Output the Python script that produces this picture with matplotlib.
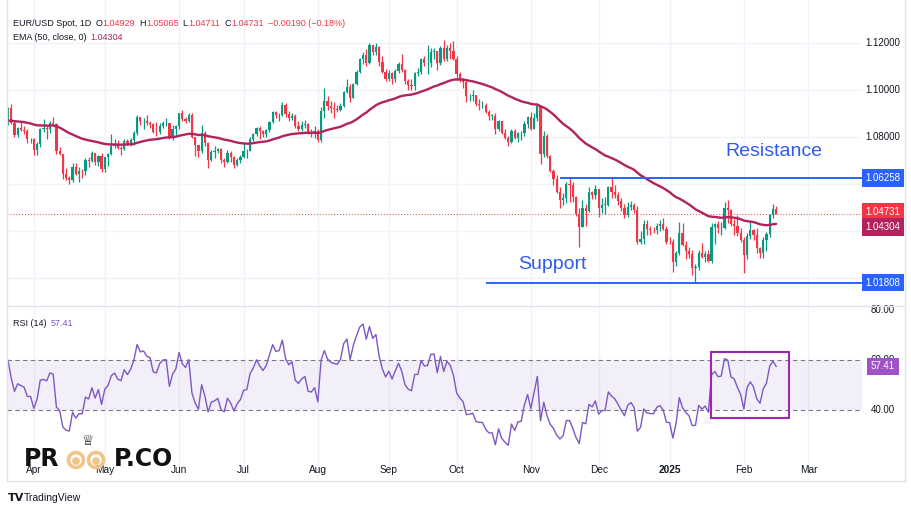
import numpy as np
import pandas as pd
import matplotlib
matplotlib.use("Agg")
import matplotlib.pyplot as plt
import matplotlib.transforms as mtrans
from matplotlib.patches import Rectangle, Circle

plt.rcParams['font.family'] = ['Liberation Sans', 'DejaVu Sans']

# EUR/USD spot, daily bars 2024-03-20 .. 2025-02-17 (weekdays)
start_date = '2024-03-20'
end_date   = '2025-02-17'
first_open = 1.0865
closes = [1.0922, 1.0861, 1.0808, 1.0838, 1.0831, 1.0825, 1.0790, 1.0790,
          1.0743, 1.0770, 1.0836, 1.0838, 1.0834, 1.0861, 1.0857, 1.0742, 1.0727, 1.0642, 1.0624, 1.0619,
          1.0672, 1.0643, 1.0656, 1.0655, 1.0703, 1.0696, 1.0730, 1.0694, 1.0720, 1.0665,
          1.0714, 1.0727, 1.0761, 1.0771, 1.0753, 1.0748, 1.0784, 1.0771, 1.0788, 1.0819, 1.0884, 1.0866,
          1.0870, 1.0858, 1.0855, 1.0822, 1.0820, 1.0847, 1.0858, 1.0859, 1.0800, 1.0833, 1.0848,
          1.0903, 1.0877, 1.0868, 1.0894, 1.0801, 1.0765, 1.0741, 1.0817, 1.0775, 1.0703, 1.0736, 1.0740,
          1.0748, 1.0701, 1.0692, 1.0732, 1.0713, 1.0681, 1.0701, 1.0713,
          1.0740, 1.0742, 1.0791, 1.0811, 1.0840, 1.0825, 1.0813, 1.0829, 1.0865, 1.0907, 1.0892, 1.0895,
          1.0937, 1.0896, 1.0881, 1.0891, 1.0845, 1.0836, 1.0849, 1.0855, 1.0818, 1.0816, 1.0826,
          1.0789, 1.0911, 1.0953, 1.0931, 1.0922, 1.0919, 1.0917, 1.0932, 1.0992, 1.1013, 1.0966, 1.1027,
          1.1078, 1.1130, 1.1150, 1.1113, 1.1193, 1.1161, 1.1184, 1.1120, 1.1077, 1.1048,
          1.1073, 1.1045, 1.1079, 1.1112, 1.1086, 1.1038, 1.1021, 1.1015, 1.1074, 1.1075, 1.1131, 1.1115,
          1.1117, 1.1163, 1.1164, 1.1113, 1.1180, 1.1133, 1.1177, 1.1165, 1.1134,
          1.1068, 1.1047, 1.1032, 1.0974, 1.0975, 1.0978, 1.0941, 1.0937, 1.0937, 1.0907, 1.0891, 1.0891,
          1.0833, 1.0866, 1.0818, 1.0797, 1.0780, 1.0826, 1.0796, 1.0816, 1.0817, 1.0856, 1.0883,
          1.0834, 1.0879, 1.0933, 1.0729, 1.0803, 1.0719, 1.0654, 1.0622, 1.0565, 1.0530, 1.0542, 1.0598,
          1.0597, 1.0544, 1.0472, 1.0418, 1.0496, 1.0487, 1.0567, 1.0552, 1.0577,
          1.0497, 1.0512, 1.0512, 1.0588, 1.0567, 1.0554, 1.0527, 1.0496, 1.0467, 1.0502, 1.0512, 1.0489,
          1.0353, 1.0366, 1.0430, 1.0407, 1.0404, 1.0403, 1.0423, 1.0428, 1.0410, 1.0354,
          1.0352, 1.0266, 1.0307, 1.0392, 1.0342, 1.0317, 1.0300, 1.0244, 1.0245, 1.0308, 1.0290, 1.0300,
          1.0272, 1.0416, 1.0431, 1.0411, 1.0414, 1.0496, 1.0491, 1.0431, 1.0423, 1.0391, 1.0362,
          1.0296, 1.0378, 1.0403, 1.0381, 1.0328, 1.0307, 1.0362, 1.0386, 1.0466, 1.0492, 1.04731]
highs = [1.0929, 1.0942, 1.0866, 1.0841, 1.0864, 1.0845, 1.0833, 1.0797,
         1.0797, 1.0777, 1.0838, 1.0876, 1.0848, 1.0868, 1.0885, 1.0860, 1.0758, 1.0729, 1.0667, 1.0632,
         1.0690, 1.0691, 1.0673, 1.0663, 1.0710, 1.0715, 1.0740, 1.0734, 1.0722, 1.0733,
         1.0717, 1.0731, 1.0812, 1.0790, 1.0787, 1.0763, 1.0791, 1.0791, 1.0797, 1.0825, 1.0895, 1.0887,
         1.0881, 1.0894, 1.0869, 1.0861, 1.0862, 1.0858, 1.0866, 1.0882, 1.0860, 1.0849, 1.0852,
         1.0903, 1.0916, 1.0885, 1.0902, 1.0902, 1.0790, 1.0768, 1.0852, 1.0824, 1.0780, 1.0743, 1.0761,
         1.0752, 1.0753, 1.0710, 1.0744, 1.0741, 1.0718, 1.0712, 1.0723,
         1.0776, 1.0748, 1.0800, 1.0815, 1.0844, 1.0845, 1.0830, 1.0834, 1.0870, 1.0909, 1.0911, 1.0904,
         1.0948, 1.0945, 1.0910, 1.0902, 1.0897, 1.0866, 1.0868, 1.0871, 1.0858, 1.0832, 1.0848,
         1.0835, 1.0926, 1.1009, 1.0976, 1.0953, 1.0948, 1.0937, 1.0943, 1.0995, 1.1047, 1.1025, 1.1031,
         1.1086, 1.1136, 1.1162, 1.1174, 1.1201, 1.1188, 1.1202, 1.1186, 1.1143, 1.1088,
         1.1085, 1.1075, 1.1090, 1.1120, 1.1155, 1.1090, 1.1045, 1.1045, 1.1076, 1.1092, 1.1137, 1.1146,
         1.1190, 1.1180, 1.1180, 1.1168, 1.1188, 1.1214, 1.1190, 1.1202, 1.1209,
         1.1145, 1.1076, 1.1052, 1.1043, 1.0985, 1.1002, 1.0980, 1.0960, 1.0955, 1.0944, 1.0914, 1.0897,
         1.0903, 1.0871, 1.0867, 1.0836, 1.0806, 1.0836, 1.0835, 1.0822, 1.0826, 1.0870, 1.0890,
         1.0905, 1.0901, 1.0937, 1.0937, 1.0826, 1.0811, 1.0725, 1.0664, 1.0640, 1.0588, 1.0560, 1.0607,
         1.0630, 1.0610, 1.0550, 1.0497, 1.0530, 1.0514, 1.0587, 1.0571, 1.0596,
         1.0570, 1.0540, 1.0546, 1.0590, 1.0630, 1.0595, 1.0565, 1.0540, 1.0517, 1.0522, 1.0526, 1.0520,
         1.0508, 1.0400, 1.0446, 1.0445, 1.0420, 1.0417, 1.0434, 1.0445, 1.0456, 1.0423,
         1.0375, 1.0365, 1.0315, 1.0437, 1.0436, 1.0359, 1.0330, 1.0320, 1.0259, 1.0318, 1.0351, 1.0316,
         1.0318, 1.0433, 1.0435, 1.0443, 1.0437, 1.0522, 1.0533, 1.0495, 1.0453, 1.0467, 1.0414,
         1.0376, 1.0392, 1.0442, 1.0410, 1.0411, 1.0333, 1.0373, 1.0395, 1.0471, 1.0513, 1.05065]
lows = [1.0850, 1.0857, 1.0802, 1.0802, 1.0826, 1.0813, 1.0776, 1.0774,
        1.0725, 1.0724, 1.0756, 1.0823, 1.0791, 1.0818, 1.0852, 1.0728, 1.0724, 1.0622, 1.0616, 1.0601,
        1.0610, 1.0637, 1.0610, 1.0625, 1.0637, 1.0673, 1.0693, 1.0680, 1.0678, 1.0650,
        1.0650, 1.0678, 1.0723, 1.0753, 1.0750, 1.0724, 1.0743, 1.0765, 1.0762, 1.0767, 1.0810, 1.0850,
        1.0835, 1.0852, 1.0838, 1.0815, 1.0805, 1.0812, 1.0840, 1.0845, 1.0792, 1.0788, 1.0810,
        1.0836, 1.0867, 1.0858, 1.0865, 1.0795, 1.0719, 1.0717, 1.0734, 1.0760, 1.0668, 1.0700, 1.0710,
        1.0733, 1.0690, 1.0671, 1.0690, 1.0693, 1.0666, 1.0677, 1.0688,
        1.0709, 1.0710, 1.0740, 1.0781, 1.0803, 1.0790, 1.0800, 1.0801, 1.0820, 1.0858, 1.0880, 1.0869,
        1.0891, 1.0884, 1.0869, 1.0873, 1.0837, 1.0826, 1.0826, 1.0837, 1.0813, 1.0802, 1.0796,
        1.0777, 1.0780, 1.0881, 1.0913, 1.0904, 1.0881, 1.0905, 1.0911, 1.0928, 1.0987, 1.0949, 1.0967,
        1.1023, 1.1074, 1.1111, 1.1102, 1.1111, 1.1150, 1.1151, 1.1103, 1.1071, 1.1040,
        1.1040, 1.1026, 1.1034, 1.1071, 1.1075, 1.1026, 1.1002, 1.1001, 1.0999, 1.1059, 1.1070, 1.1103,
        1.1068, 1.1098, 1.1131, 1.1083, 1.1108, 1.1122, 1.1123, 1.1131, 1.1126,
        1.1044, 1.1033, 1.1007, 1.0951, 1.0954, 1.0954, 1.0933, 1.0917, 1.0923, 1.0904, 1.0873, 1.0871,
        1.0811, 1.0827, 1.0814, 1.0791, 1.0761, 1.0776, 1.0791, 1.0780, 1.0787, 1.0805, 1.0838,
        1.0829, 1.0845, 1.0870, 1.0683, 1.0717, 1.0710, 1.0650, 1.0595, 1.0560, 1.0497, 1.0510, 1.0519,
        1.0523, 1.0522, 1.0462, 1.0332, 1.0437, 1.0422, 1.0480, 1.0538, 1.0538,
        1.0460, 1.0475, 1.0472, 1.0505, 1.0542, 1.0539, 1.0510, 1.0485, 1.0455, 1.0460, 1.0488, 1.0475,
        1.0343, 1.0343, 1.0343, 1.0383, 1.0385, 1.0390, 1.0386, 1.0400, 1.0405, 1.0343,
        1.0343, 1.0225, 1.0250, 1.0297, 1.0337, 1.0282, 1.0285, 1.0214, 1.0178, 1.0235, 1.0283, 1.0266,
        1.0266, 1.0265, 1.0343, 1.0390, 1.0384, 1.0410, 1.0434, 1.0420, 1.0385, 1.0380, 1.0355,
        1.0222, 1.0280, 1.0365, 1.0363, 1.0306, 1.0284, 1.0286, 1.0317, 1.0374, 1.0454, 1.04711]

ema_len, ema_seed = 50, 1.0868
rsi_len, rsi_seed = 14, (0.0018, 0.0015)

price_ticks = [1.02, 1.04, 1.06, 1.08, 1.10, 1.12]
rsi_ticks   = [40, 60, 80]
rsi_band    = (40, 60)
resistance, res_from = 1.06258, 171
support, sup_from    = 1.01808, 148
hdr_vals = ['1.04929', '1.05065', '1.04711', '1.04731']
hdr_chg  = '\u22120.00190 (\u22120.18%)'
ema_txt, rsi_txt = '1.04304', '57.41'

UP, DN   = '#089981', '#f23645'
EMA_C    = '#b2225c'
BLUE     = '#2962ff'
RSI_C    = '#7e57c2'
GRID     = '#f0f3fa'
TXT      = '#131722'
FRAME    = '#e0e3eb'

W, H = 912, 513
XL = (-0.31, 264.6)

def box(x0, y0, x1, y1):
	return [x0/W, 1-y1/H, (x1-x0)/W, (y1-y0)/H]

#####################
# series
#####################
c = np.array(closes); h = np.array(highs); l = np.array(lows)
n = len(c)
assert len(h) == n and len(l) == n
o = np.r_[first_open, c[:-1]]
h = np.maximum(h, np.maximum(o, c)); l = np.minimum(l, np.minimum(o, c))
x = np.arange(n)
dates = pd.bdate_range(start_date, end_date)
assert len(dates) == n, len(dates)
cal = pd.bdate_range(start_date, '2025-03-31')
ms = [i for i in range(1, len(cal)) if cal[i].month != cal[i-1].month]

a = 2./(ema_len+1)
ema = np.empty(n); prev = ema_seed
for i in range(n):
	prev = a*c[i] + (1-a)*prev
	ema[i] = prev

ag, al = rsi_seed
rsi = np.empty(n)
d = c - o
for i in range(n):
	ag = (ag*(rsi_len-1) + max(d[i], 0))/rsi_len
	al = (al*(rsi_len-1) + max(-d[i], 0))/rsi_len
	rsi[i] = 100 - 100/(1+ag/al)

#####################
# figure
#####################
fig = plt.figure(figsize=(W/100., H/100.), dpi=100)
ax = fig.add_axes(box(7, 0, 862, 305))
ar = fig.add_axes(box(7, 307, 862, 480))
for axx in (ax, ar):
	axx.set_xlim(*XL)
	axx.set_xticks([]); axx.set_yticks([])
	for s in axx.spines.values(): s.set_visible(False)
	for m in ms: axx.axvline(m, color=GRID, lw=1, zorder=0)
ax.set_ylim(1.00851, 1.13830)
ar.set_ylim(12.0, 81.2)
for p in price_ticks: ax.axhline(p, color=GRID, lw=1, zorder=0)

# candles + ema
col = np.where(c >= o, UP, DN)
ax.vlines(x, l, h, colors=col, lw=0.9, zorder=2)
ax.bar(x, np.maximum(np.abs(c-o), 0.00008), 0.7, np.minimum(o, c), color=col, lw=0, zorder=3)
ax.plot(x, ema, color=EMA_C, lw=1.7, zorder=4, solid_capstyle='round')
ax.axhline(c[-1], color=DN, lw=0.7, ls=(0, (1, 2)), zorder=1)
ax.hlines(resistance, res_from, XL[1], color=BLUE, lw=1.4, zorder=5)
ax.hlines(support, sup_from, XL[1], color=BLUE, lw=1.4, zorder=5)
ax.text(222.2, 1.07191, 'Resistance', color='#2e5bef', fontsize=14, va='baseline', zorder=6)
ax.text(158.0, 1.02383, 'Support', color='#2e5bef', fontsize=14, va='baseline', zorder=6)

# price scale
xs = 883./W
tags = [resistance, support, float(hdr_vals[3]), float(ema_txt)]
for p in price_ticks:
	if min(abs(p-t) for t in tags) < 0.0035: continue
	ax.text(xs, p, '%.5f' % p, transform=mtrans.blended_transform_factory(fig.transFigure, ax.transData),
			ha='center', va='center', fontsize=7, color=TXT, clip_on=False)

def tag(axx, y, s, bg, dy=0):
	tr = mtrans.offset_copy(mtrans.blended_transform_factory(fig.transFigure, axx.transData), fig=fig, y=dy, units='dots')
	axx.text(xs, y, s, transform=tr, ha='center', va='center', fontsize=7, color='white', zorder=20, clip_on=False,
			 bbox=dict(boxstyle='square,pad=0.4', fc=bg, ec='none'))

tag(ax, resistance, '%.5f' % resistance, BLUE)
tag(ax, support, '%.5f' % support, BLUE)
tag(ax, float(hdr_vals[3]), hdr_vals[3], DN, 1.5)
tag(ax, float(ema_txt), ema_txt, EMA_C, -3)

# rsi pane
ar.axhspan(*rsi_band, color=RSI_C, alpha=0.09, lw=0)
for v in rsi_band: ar.axhline(v, color='#787b86', lw=0.8, ls=(0, (4, 3)))
ar.plot(x, rsi, color=RSI_C, lw=1, zorder=4)
ar.add_patch(Rectangle((217.8, 36.9), 24.2, 26.2, fill=False, ec='#9c27b0', lw=1.5, zorder=6))
for v in rsi_ticks:
	ar.text(xs, v, '%.2f' % v, transform=mtrans.blended_transform_factory(fig.transFigure, ar.transData),
			ha='center', va='center', fontsize=7, color=TXT, clip_on=False)
tag(ar, float(rsi_txt), rsi_txt, '#a052c8')

# time axis
trm = mtrans.blended_transform_factory(ar.transData, fig.transFigure)
for m in ms:
	lab = '2025' if cal[m].month == 1 else cal[m].strftime('%b')
	ar.text(m, 1-470./H, lab, transform=trm, ha='center', va='center', fontsize=7.3, color=TXT,
			fontweight='bold' if lab == '2025' else 'normal', clip_on=False)

#####################
# overlay: frame, legend texts, logos
#####################
ov = fig.add_axes([0, 0, 1, 1], zorder=10)
ov.set_xlim(0, W); ov.set_ylim(H, 0); ov.axis('off')
ov.plot([7, 7], [0, 481], color=FRAME, lw=1)
ov.plot([905, 905], [0, 481], color=FRAME, lw=1)
ov.plot([7, 905], [481, 481], color=FRAME, lw=1)
ov.plot([7, 905], [306, 306], color=FRAME, lw=1)

rend = fig.canvas.get_renderer()
def row(y, parts, x0=13, fs=6.5):
	px = x0
	for s, cc, gap in parts:
		t = ov.text(px, y, s, color=cc, fontsize=fs, va='center')
		px += t.get_window_extent(rend).width + gap

row(23, [('EUR/USD Spot, 1D', TXT, 4), ('O', TXT, 0.5), (hdr_vals[0], DN, 4), ('H', TXT, 0.5), (hdr_vals[1], DN, 4),
		 ('L', TXT, 0.5), (hdr_vals[2], DN, 4), ('C', TXT, 0.5), (hdr_vals[3], DN, 4), (hdr_chg, DN, 0)])
row(38, [('EMA (50, close, 0)', TXT, 4), (ema_txt, EMA_C, 0)])
row(323, [('RSI (14)', TXT, 4), (rsi_txt, RSI_C, 0)])

# watermark
ov.text(24, 459, 'PR', fontsize=17, fontweight='bold', family='DejaVu Sans', color='#111111', va='center')
ov.text(114, 459, 'P.CO', fontsize=17, fontweight='bold', family='DejaVu Sans', color='#111111', va='center')
for cx in (76, 96):
	ov.add_patch(Circle((cx, 460), 7.5, fill=False, ec='#f1c58a', lw=2.6))
	ov.add_patch(Circle((cx, 461), 3.2, color='#f1c58a'))
ov.text(88, 441, '\u2655', fontsize=10, family='DejaVu Sans', color='#111111', ha='center', va='center')

ov.text(8, 498, 'TV', fontsize=8, fontweight='bold', family='DejaVu Sans', color=TXT, va='center')
ov.text(24, 498, 'TradingView', fontsize=7.5, color=TXT, va='center')

fig.savefig('out.png', dpi=100)
